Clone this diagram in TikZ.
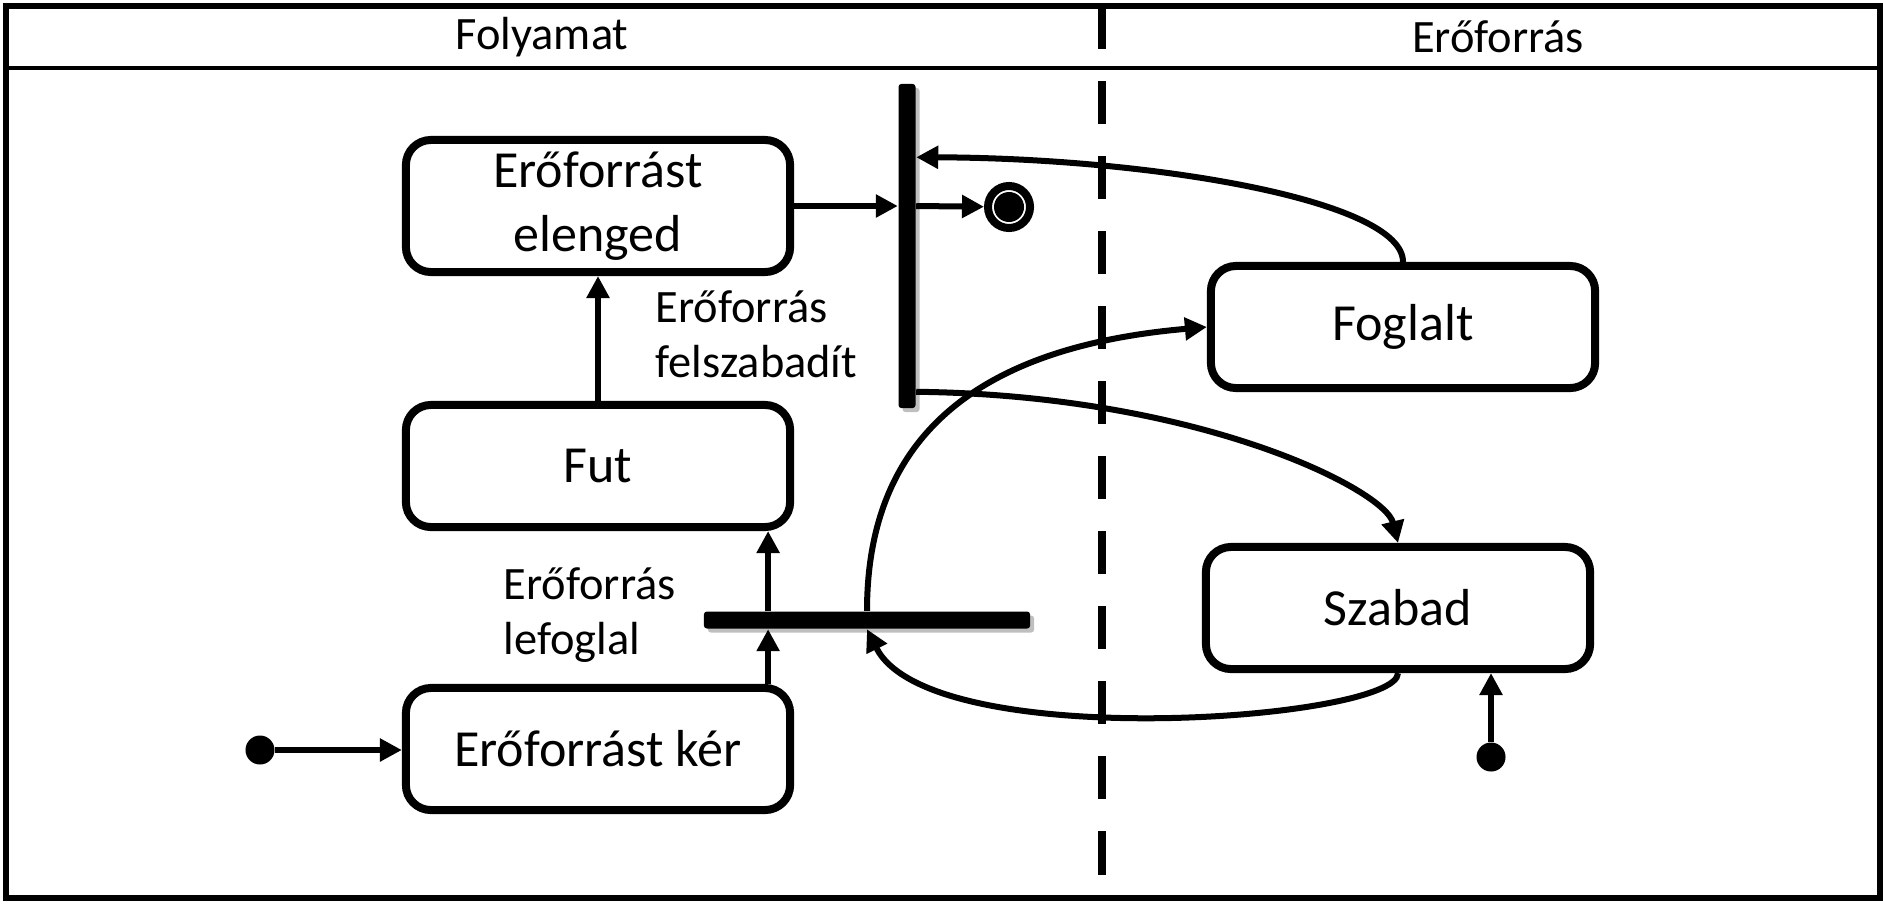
\documentclass[tikz,border=0pt]{standalone}
\usepackage{fontspec}
\setmainfont{Carlito}
\usetikzlibrary{arrows.meta, positioning, shadows}
\newcommand{\statefont}{\fontsize{14.8}{18.2}\selectfont}
\newcommand{\notefont}{\fontsize{13.2}{15.6}\selectfont}

\begin{document}
\begin{tikzpicture}[
    x=0.01cm, y=-0.01cm,
    statebox/.style={rectangle, draw, line width=0.08cm, rounded corners=0.25cm, minimum width=3.84cm, minimum height=1.22cm, align=center, font=\statefont},
    syncbar/.style={fill=black, rounded corners=0.03cm, inner sep=0pt, drop shadow={shadow xshift=0.04cm, shadow yshift=-0.04cm, fill=black, opacity=0.25}},
    arrow/.style={-{Triangle[length=0.22cm, width=0.22cm]}, line width=0.06cm},
    startdot/.style={circle, fill=black, inner sep=0pt, minimum size=0.29cm},
    endstate/.style={circle, draw, line width=0.08cm, minimum size=0.42cm, inner sep=0pt,
        path picture={\fill (path picture bounding box.center) circle (0.15cm);}},
    note/.style={font=\notefont, align=left, inner sep=0pt},
    lanelabel/.style={font=\notefont}
]
\useasboundingbox (0,0) rectangle (1883,903);

% Swimlanes
\draw[line width=0.055cm] (6,6) rectangle (1880,898);
\draw[line width=0.04cm] (6,68) -- (1880,68);
\draw[line width=0.08cm, dash pattern=on 0.43cm off 0.32cm] (1102,6) -- (1102,880);
\node[lanelabel] (lanep) at (542,37) {Folyamat};
\node[lanelabel] (laner) at (1498,37) {Erőforrás};

% Process states
\node[statebox] (elenged) at (598,206) {Erőforrást\\elenged};
\node[statebox] (fut) at (598,466) {Fut};
\node[statebox] (ker) at (598,749) {Erőforrást kér};

% Resource states
\node[statebox] (foglalt) at (1403,327) {Foglalt};
\node[statebox] (szabad) at (1398,608) {Szabad};

% Synchronisation bars
\node[syncbar, minimum width=0.17cm, minimum height=3.24cm] (syncv) at (907,246) {};
\node[syncbar, minimum width=3.26cm, minimum height=0.17cm] (synch) at (867,620) {};

% Initial and final states
\node[startdot] (start1) at (260,750) {};
\node[startdot] (start2) at (1491,757) {};
\node[endstate] (final) at (1009,207) {};

% Transition labels
\node[note, anchor=west] (felsz) at (655,334) {Erőforrás\\felszabadít};
\node[note, anchor=west] (lefog) at (503,615) {Erőforrás\\lefoglal};

% Process flow
\draw[arrow] (start1) -- (start1 -| ker.west);
\draw[arrow] ([xshift=-0.26cm]ker.north east) -- ([xshift=-0.26cm]ker.north east |- synch.south);
\draw[arrow] ([xshift=-0.26cm]fut.south east |- synch.north) -- ([xshift=-0.26cm]fut.south east);
\draw[arrow] (fut.north) -- (elenged.south);
\draw[arrow] (elenged.east) -- (elenged.east -| syncv.west);
\draw[arrow] (elenged.east -| syncv.east) -- (final);

% Resource flow
\draw[arrow] (start2) -- (start2 |- szabad.south);
\draw[arrow] (foglalt.north) .. controls (1403,200) and (1150,158) .. ([yshift=-0.74cm]syncv.north east);
\draw[arrow] ([yshift=0.17cm]syncv.south east) .. controls (1200,395) and (1385,490) .. (szabad.north);
\draw[arrow] (szabad.south) .. controls (1398,720) and (930,755) .. (synch.south);
\draw[arrow] (synch.north) .. controls (867,420) and (1000,345) .. (foglalt.west);

\end{tikzpicture}
\end{document}
